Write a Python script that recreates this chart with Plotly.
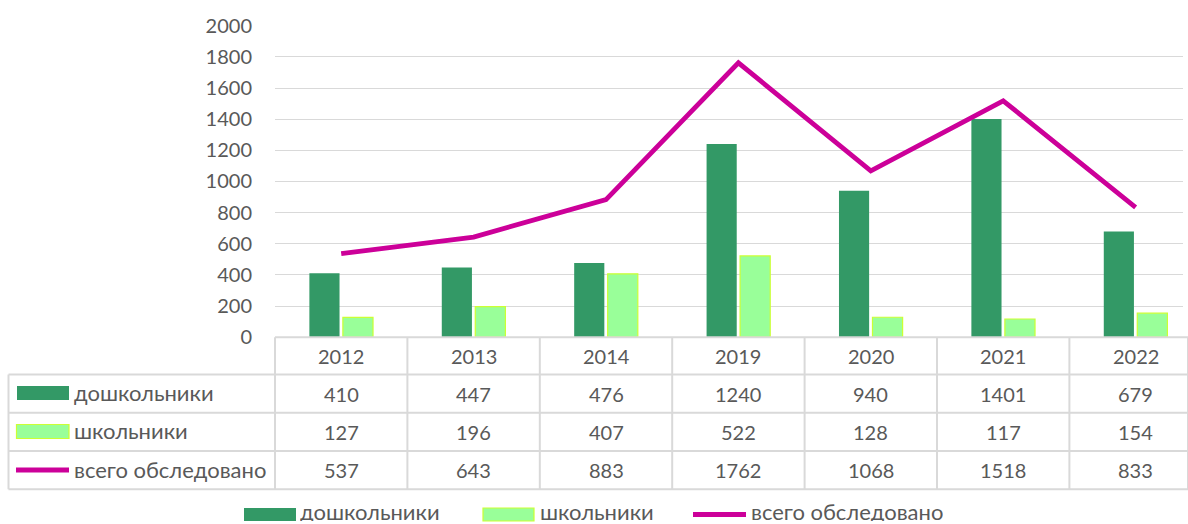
import plotly.graph_objects as go

# ---------------- data ----------------
years = ["2012", "2013", "2014", "2019", "2020", "2021", "2022"]
preschool = [410, 447, 476, 1240, 940, 1401, 679]
school = [127, 196, 407, 522, 128, 117, 154]
total = [537, 643, 883, 1762, 1068, 1518, 833]
series_names = ["дошкольники", "школьники", "всего обследовано"]
y_ticks = [0, 200, 400, 600, 800, 1000, 1200, 1400, 1600, 1800, 2000]

# ---------------- style ----------------
W, H = 1188, 524
FONT = "Lato, 'Noto Sans', sans-serif"
TXT = "#595959"
GRID = "#d9d9d9"
DARK = "#339966"
LIGHT = "#99FF99"
LIGHT_EDGE = "#CCFF33"
MAGENTA = "#CC0099"
FS = 20
FS_LABEL = 22


def px(x):
    return x / W


def py(y):
    return 1 - y / H


X0 = 275.0        # left edge of plot / first table column
COLW = 132.4      # width of one category column
PLOT_R = 1183.0
Y_TOP, Y_BOT = 25.7, 337.2
ROWS = [337.2, 374.5, 412.8, 451.0, 489.3]

fig = go.Figure()
fig.add_trace(go.Bar(x=years, y=preschool, name=series_names[0],
                     marker=dict(color=DARK, line=dict(width=0))))
fig.add_trace(go.Bar(x=years, y=school, name=series_names[1],
                     marker=dict(color=LIGHT, line=dict(color=LIGHT_EDGE, width=1.2))))
fig.add_trace(go.Scatter(x=years, y=total, name=series_names[2], mode="lines",
                         line=dict(color=MAGENTA, width=4.8)))

shapes = []
# table vertical lines
for k in range(len(years) + 1):
    xv = min(X0 + k * COLW, W)
    shapes.append(dict(type="line", xref="paper", yref="paper",
                       x0=px(xv), x1=px(xv), y0=py(ROWS[0]), y1=py(ROWS[-1]),
                       line=dict(color=GRID, width=2)))
shapes.append(dict(type="line", xref="paper", yref="paper",
                   x0=px(8.5), x1=px(8.5), y0=py(ROWS[1]), y1=py(ROWS[-1]),
                   line=dict(color=GRID, width=2)))
# table horizontal lines
shapes.append(dict(type="line", xref="paper", yref="paper",
                   x0=px(X0), x1=1.0, y0=py(ROWS[0]), y1=py(ROWS[0]),
                   line=dict(color=GRID, width=2)))
for r in ROWS[1:]:
    shapes.append(dict(type="line", xref="paper", yref="paper",
                       x0=px(8.5), x1=1.0, y0=py(r), y1=py(r),
                       line=dict(color=GRID, width=2)))

annotations = []
# header years
for j, yr in enumerate(years):
    annotations.append(dict(x=j, xref="x", y=py((ROWS[0] + ROWS[1]) / 2), yref="paper",
                            text=yr, showarrow=False, xanchor="center", yanchor="middle",
                            font=dict(family=FONT, size=FS, color=TXT)))
# table values
for i, vals in enumerate([preschool, school, total]):
    yc = (ROWS[i + 1] + ROWS[i + 2]) / 2
    for j, v in enumerate(vals):
        annotations.append(dict(x=j, xref="x", y=py(yc), yref="paper",
                                text=str(v), showarrow=False, xanchor="center", yanchor="middle",
                                font=dict(family=FONT, size=FS, color=TXT)))
    annotations.append(dict(x=px(72), xref="paper", y=py(yc - 1), yref="paper",
                            text=series_names[i], showarrow=False, xanchor="left", yanchor="middle",
                            font=dict(family=FONT, size=FS_LABEL, color=TXT)))

# table legend keys
shapes.append(dict(type="rect", xref="paper", yref="paper",
                   x0=px(17), x1=px(69), y0=py(400), y1=py(386),
                   fillcolor=DARK, line=dict(width=0)))
shapes.append(dict(type="rect", xref="paper", yref="paper",
                   x0=px(16.5), x1=px(69), y0=py(438.5), y1=py(424.5),
                   fillcolor=LIGHT, line=dict(color=LIGHT_EDGE, width=1.2)))
shapes.append(dict(type="line", xref="paper", yref="paper",
                   x0=px(16), x1=px(69), y0=py(470), y1=py(470),
                   line=dict(color=MAGENTA, width=5)))

# bottom legend
LY = 514.5
shapes.append(dict(type="rect", xref="paper", yref="paper",
                   x0=px(244), x1=px(296), y0=py(521), y1=py(508),
                   fillcolor=DARK, line=dict(width=0)))
shapes.append(dict(type="rect", xref="paper", yref="paper",
                   x0=px(483), x1=px(534), y0=py(521), y1=py(508),
                   fillcolor=LIGHT, line=dict(color=LIGHT_EDGE, width=1.2)))
shapes.append(dict(type="line", xref="paper", yref="paper",
                   x0=px(693), x1=px(746), y0=py(LY), y1=py(LY),
                   line=dict(color=MAGENTA, width=5)))
for name, xl in zip(series_names, [299, 539, 750]):
    annotations.append(dict(x=px(xl), xref="paper", y=py(522), yref="paper",
                            text=name, showarrow=False, xanchor="left", yanchor="bottom",
                            height=19, valign="middle", borderpad=0,
                            font=dict(family=FONT, size=FS_LABEL, color=TXT)))

fig.update_layout(
    width=W, height=H,
    margin=dict(l=0, r=0, t=0, b=0, pad=0, autoexpand=False),
    paper_bgcolor="white", plot_bgcolor="white",
    showlegend=False,
    barmode="group", bargap=0.494, bargroupgap=0.1,
    font=dict(family=FONT, size=FS, color=TXT),
    xaxis=dict(type="category", domain=[px(X0), px(PLOT_R)],
               range=[-0.5, -0.5 + (PLOT_R - X0) / COLW],
               showticklabels=False, showgrid=False, zeroline=False,
               showline=False, ticks="", automargin=False),
    yaxis=dict(domain=[py(Y_BOT), py(Y_TOP)], range=[0, 2000],
               tickvals=y_ticks, ticktext=[str(t) for t in y_ticks],
               showgrid=True, gridcolor=GRID, gridwidth=1.3,
               zeroline=False, showline=False, ticks="", automargin=False,
               tickfont=dict(family=FONT, size=FS, color=TXT),
               ticklabelstandoff=22),
    shapes=shapes,
    annotations=annotations,
)

fig.write_html(
    "out.html",
    config={"responsive": False, "displayModeBar": False},
    post_script="document.body.style.margin='0';document.body.style.padding='0';"
                "document.body.style.overflow='hidden';",
)
